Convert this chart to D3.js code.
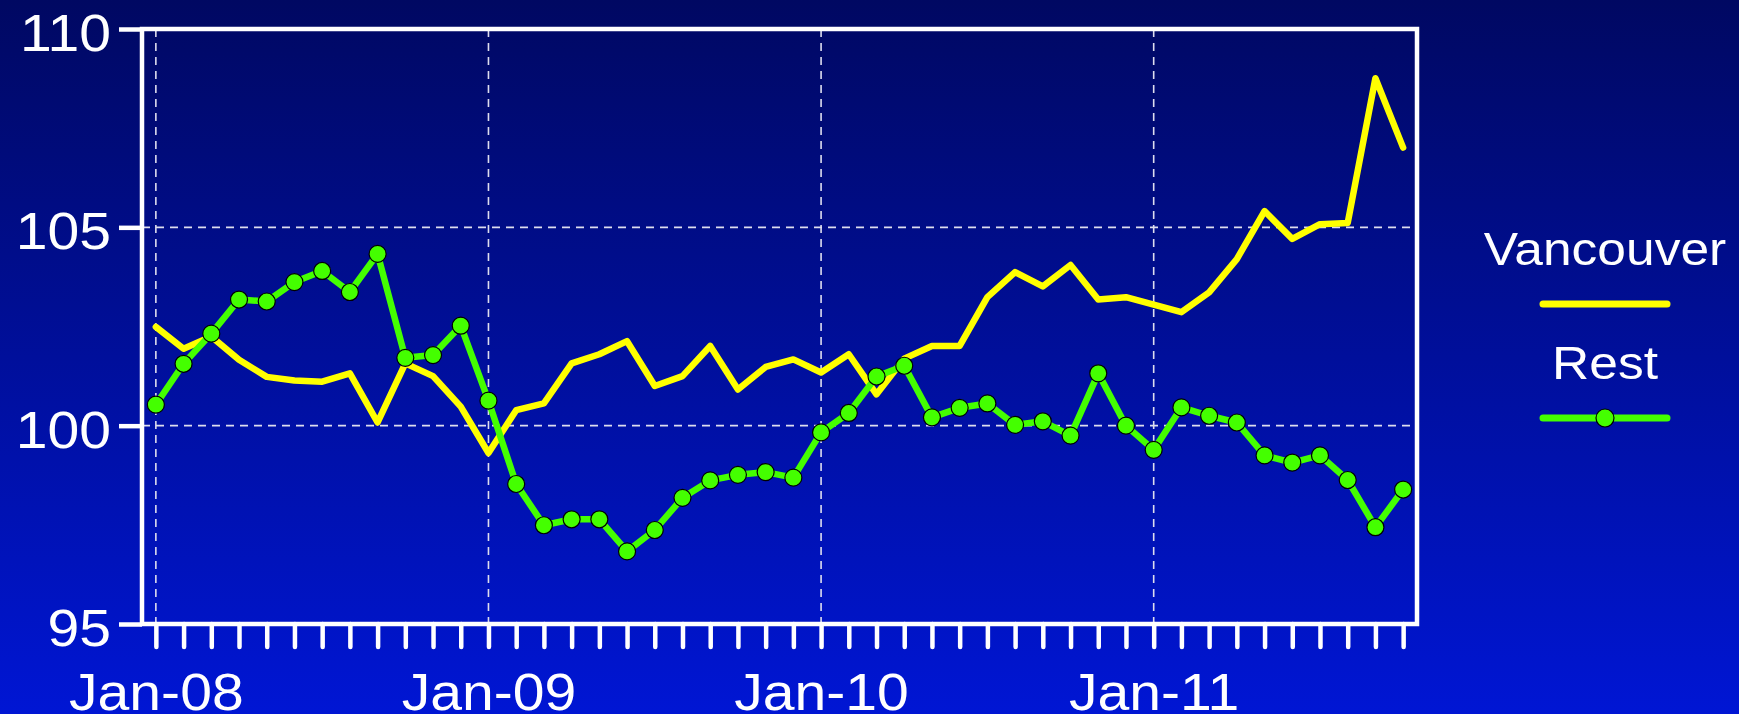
<!DOCTYPE html>
<html>
<head>
<meta charset="utf-8">
<script src="https://cdn.jsdelivr.net/npm/d3@7"></script>
<style>
  body { margin: 0; overflow: hidden; }
  text { font-family: "Liberation Sans", Arial, sans-serif; fill: #fff; }
</style>
</head>
<body>
<div id="chart"></div>
<script>
// months Jan-08 .. Oct-11
const months = d3.timeMonth.range(new Date(2008, 0, 1), new Date(2011, 10, 1));
const yTicks = [95, 100, 105, 110];
const seriesNames = ["Vancouver", "Rest"];

const vancouver = [102.49, 101.94, 102.25, 101.66, 101.23, 101.14, 101.11, 101.32, 100.08, 101.57,
  101.25, 100.48, 99.31, 100.39, 100.56, 101.57, 101.80, 102.13, 101.00, 101.25,
  102.01, 100.91, 101.48, 101.67, 101.34, 101.80, 100.79, 101.69, 102.01, 102.01,
  103.24, 103.87, 103.51, 104.05, 103.18, 103.24, 103.05, 102.86, 103.36, 104.20,
  105.41, 104.71, 105.08, 105.11, 108.76, 107.01];

const rest = [100.53, 101.56, 102.32, 103.18, 103.13, 103.62, 103.90, 103.37, 104.33, 101.71,
  101.78, 102.52, 100.63, 98.53, 97.49, 97.64, 97.64, 96.83, 97.37, 98.18,
  98.62, 98.76, 98.83, 98.69, 99.83, 100.32, 101.24, 101.51, 100.21, 100.45,
  100.56, 100.02, 100.11, 99.75, 101.32, 100.00, 99.39, 100.46, 100.25, 100.08,
  99.25, 99.07, 99.25, 98.63, 97.44, 98.39];

var width = 1739, height = 714;
var plot = {left: 142, right: 1417, top: 29, bottom: 624};
var yellow = "#ffff00", green = "#44ff00";
var stretch = "scale(1.12,1)"; // the original text is a bit wider than Arial

var svg = d3.select("#chart").append("svg")
  .attr("width", width)
  .attr("height", height);

// background gradient
var grad = svg.append("defs").append("linearGradient")
  .attr("id", "bg").attr("x1", 0).attr("y1", 0).attr("x2", 0).attr("y2", 1);
grad.append("stop").attr("offset", "0%").attr("stop-color", "rgb(0,8,98)");
grad.append("stop").attr("offset", "100%").attr("stop-color", "rgb(0,22,212)");
svg.append("rect").attr("width", width).attr("height", height).attr("fill", "url(#bg)");

var x = d3.scalePoint()
  .domain(months)
  .range([plot.left, plot.right])
  .padding(0.5);

var y = d3.scaleLinear()
  .domain([95, 110])
  .range([plot.bottom, plot.top]);

// grid lines
var janMonths = months.filter(d => d.getMonth() === 0);
svg.append("g").selectAll("line")
  .data(janMonths)
  .enter().append("line")
  .attr("x1", d => x(d)).attr("x2", d => x(d))
  .attr("y1", plot.top).attr("y2", plot.bottom)
  .attr("stroke", "#dde").attr("stroke-width", 1.6)
  .attr("stroke-dasharray", "8,6");
svg.append("g").selectAll("line")
  .data([100, 105])
  .enter().append("line")
  .attr("x1", plot.left).attr("x2", plot.right)
  .attr("y1", d => y(d)).attr("y2", d => y(d))
  .attr("stroke", "#dde").attr("stroke-width", 1.6)
  .attr("stroke-dasharray", "8,6");

// y axis
var yAxis = svg.append("g")
  .attr("transform", "translate(" + plot.left + ",0)")
  .call(d3.axisLeft(y).tickValues(yTicks).tickSize(23).tickFormat(d3.format("d")));
yAxis.select(".domain").remove();
yAxis.selectAll("line").attr("stroke", "#fff").attr("stroke-width", 4.5);
yAxis.selectAll("text")
  .attr("x", -27.7).attr("dy", "0.42em")
  .attr("transform", stretch)
  .style("font-size", "51px").style("fill", "#fff");

// x axis
var xAxis = svg.append("g")
  .attr("transform", "translate(0," + plot.bottom + ")")
  .call(d3.axisBottom(x).tickSize(23)
    .tickFormat(d => d.getMonth() === 0 ? d3.timeFormat("%b-%y")(d) : ""));
xAxis.select(".domain").remove();
xAxis.selectAll("line").attr("stroke", "#fff").attr("stroke-width", 4.5)
  .attr("stroke-linecap", "round");
xAxis.selectAll("text")
  .attr("y", 86).attr("dy", 0)
  .attr("transform", stretch)
  .style("font-size", "51px").style("fill", "#fff");

// frame
svg.append("rect")
  .attr("x", plot.left).attr("y", plot.top)
  .attr("width", plot.right - plot.left).attr("height", plot.bottom - plot.top)
  .attr("fill", "none").attr("stroke", "#fff").attr("stroke-width", 4.5);

var line = d3.line()
  .x((d, i) => x(months[i]))
  .y(d => y(d));

svg.append("path")
  .datum(vancouver)
  .attr("d", line)
  .attr("fill", "none").attr("stroke", yellow).attr("stroke-width", 6.5)
  .attr("stroke-linejoin", "round").attr("stroke-linecap", "round");

svg.append("path")
  .datum(rest)
  .attr("d", line)
  .attr("fill", "none").attr("stroke", green).attr("stroke-width", 6.5)
  .attr("stroke-linejoin", "round");

svg.append("g").selectAll("circle")
  .data(rest)
  .enter().append("circle")
  .attr("cx", (d, i) => x(months[i]))
  .attr("cy", d => y(d))
  .attr("r", 8.5)
  .attr("fill", green).attr("stroke", "#000").attr("stroke-width", 1.2);

// legend
var lx = 1605;
var legend = svg.append("g");
legend.append("text")
  .attr("transform", "translate(" + lx + ",265) " + stretch)
  .attr("text-anchor", "middle").style("font-size", "46px")
  .text(seriesNames[0]);
legend.append("line")
  .attr("x1", 1543).attr("x2", 1667).attr("y1", 304).attr("y2", 304)
  .attr("stroke", yellow).attr("stroke-width", 7).attr("stroke-linecap", "round");
legend.append("text")
  .attr("transform", "translate(" + lx + ",379) " + stretch)
  .attr("text-anchor", "middle").style("font-size", "46px")
  .text(seriesNames[1]);
legend.append("line")
  .attr("x1", 1543).attr("x2", 1667).attr("y1", 418).attr("y2", 418)
  .attr("stroke", green).attr("stroke-width", 7).attr("stroke-linecap", "round");
legend.append("circle")
  .attr("cx", lx).attr("cy", 418).attr("r", 9)
  .attr("fill", green).attr("stroke", "#000").attr("stroke-width", 1.2);
</script>
</body>
</html>
